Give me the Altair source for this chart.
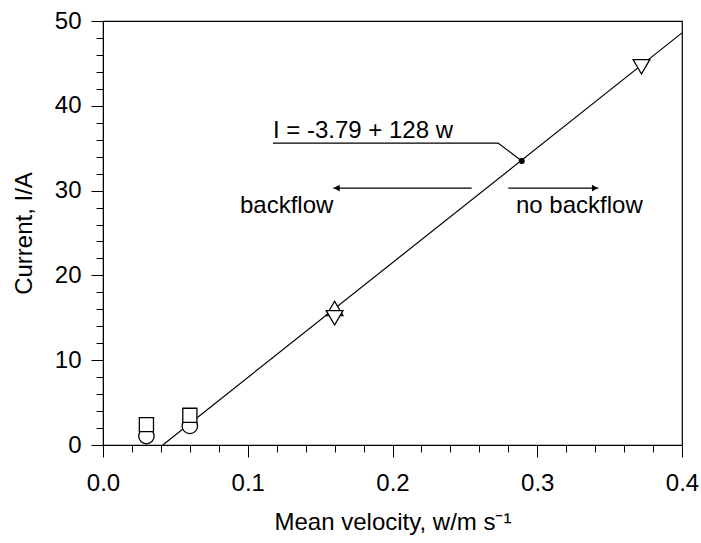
import altair as alt
import pandas as pd

# ---- data ----
circle_w = [0.03, 0.06]
circle_i = [1.05, 2.25]
square_w = [0.03, 0.06]
square_i = [2.4, 3.5]
tri_up_w = [0.16]
tri_up_i = [16.1]
tri_down_w = [0.16, 0.372]
tri_down_i = [15.0, 44.6]

fit_w = [0.0413, 0.4]
fit_i = [0.0, 48.6]

key_w = [0.2893]
key_i = [33.5]

leader_w = [0.1174, 0.2729, 0.2893]
leader_i = [35.6, 35.6, 33.5]

arrow_left_w = [0.2547, 0.1591]
arrow_right_w = [0.2800, 0.3422]
arrow_i = 30.3

labels_text = ["I = -3.79 + 128 w", "backflow", "no backflow"]
labels_w = [0.1174, 0.0946, 0.2853]
labels_i = [36.2, 27.4, 27.4]

x_ticks = [0.0, 0.02, 0.04, 0.06, 0.08, 0.1, 0.12, 0.14, 0.16, 0.18, 0.2,
           0.22, 0.24, 0.26, 0.28, 0.3, 0.32, 0.34, 0.36, 0.38, 0.4]
y_ticks = [0, 2, 4, 6, 8, 10, 12, 14, 16, 18, 20, 22, 24, 26, 28, 30,
           32, 34, 36, 38, 40, 42, 44, 46, 48, 50]

FONT = "Liberation Sans"
FS = 24
W, H = 579, 424

xs = alt.Scale(domain=[0, 0.4], nice=False, zero=False)
ys = alt.Scale(domain=[0, 50], nice=False, zero=False)

x_major = "abs(datum.value*10 - round(datum.value*10)) < 1e-6"
y_major = "datum.value % 10 === 0"

x_axis = alt.Axis(
    values=x_ticks, tickCount=100, grid=False, domainColor="black", tickColor="black",
    tickSize={"condition": {"test": x_major, "value": 12}, "value": 7},
    labelExpr="abs(datum.value*10 - round(datum.value*10)) < 1e-6 ? format(datum.value, '.1f') : ''",
    labelFont=FONT, labelFontSize=FS, labelColor="black", labelPadding=14,
    labelFlush=False, labelOverlap=False,
    title="Mean velocity, w/m s\u207b\u00b9", titleFont=FONT, titleFontSize=FS,
    titleFontWeight="normal", titleColor="black",
    titleX=W / 2, titleY=84, titleAnchor="middle", titleAlign="center", titleBaseline="alphabetic",
)
y_axis = alt.Axis(
    values=y_ticks, tickCount=100, grid=False, domainColor="black", tickColor="black",
    tickSize={"condition": {"test": y_major, "value": 12}, "value": 7},
    labelExpr="datum.value % 10 === 0 ? format(datum.value, 'd') : ''",
    labelFont=FONT, labelFontSize=FS, labelColor="black", labelPadding=10,
    labelFlush=False, labelOverlap=False,
    title="Current, I/A", titleFont=FONT, titleFontSize=FS,
    titleFontWeight="normal", titleColor="black",
    titleX=-72, titleY=H / 2, titleAngle=-90, titleAlign="center", titleBaseline="alphabetic",
)

X = alt.X("w:Q", scale=xs, axis=x_axis)
Y = alt.Y("i:Q", scale=ys, axis=y_axis)
Xn = alt.X("w:Q", scale=xs)
Yn = alt.Y("i:Q", scale=ys)

fit = alt.Chart(pd.DataFrame({"w": fit_w, "i": fit_i})).mark_line(
    color="black", strokeWidth=1.2).encode(x=X, y=Y)

leader = alt.Chart(pd.DataFrame({"w": leader_w, "i": leader_i, "o": [0, 1, 2]})).mark_line(
    color="black", strokeWidth=1.2).encode(x=Xn, y=Yn, order="o:O")

def pts(w, i, shape, size):
    return alt.Chart(pd.DataFrame({"w": w, "i": i})).mark_point(
        shape=shape, size=size, filled=True, fill="white", stroke="black",
        strokeWidth=1.3, opacity=1).encode(x=Xn, y=Yn)

circles = pts(circle_w, circle_i, "circle", 240)
squares = pts(square_w, square_i, "square", 200)
tri_up = pts(tri_up_w, tri_up_i, "triangle-up", 280)
tri_down = pts(tri_down_w, tri_down_i, "triangle-down", 280)

key = alt.Chart(pd.DataFrame({"w": key_w, "i": key_i})).mark_point(
    shape="circle", size=36, filled=True, color="black", opacity=1).encode(x=Xn, y=Yn)

arr_l = alt.Chart(pd.DataFrame({"w": arrow_left_w[:1], "w2": arrow_left_w[1:], "i": [arrow_i]})).mark_rule(
    color="black", strokeWidth=1.2).encode(x=Xn, x2="w2:Q", y=Yn)
arr_r = alt.Chart(pd.DataFrame({"w": arrow_right_w[:1], "w2": arrow_right_w[1:], "i": [arrow_i]})).mark_rule(
    color="black", strokeWidth=1.2).encode(x=Xn, x2="w2:Q", y=Yn)
head_l = alt.Chart(pd.DataFrame({"w": arrow_left_w[1:], "i": [arrow_i]})).mark_point(
    shape="triangle-left", size=45, filled=True, color="black", opacity=1, xOffset=3.5).encode(x=Xn, y=Yn)
head_r = alt.Chart(pd.DataFrame({"w": arrow_right_w[1:], "i": [arrow_i]})).mark_point(
    shape="triangle-right", size=45, filled=True, color="black", opacity=1, xOffset=-3.5).encode(x=Xn, y=Yn)

texts = alt.Chart(pd.DataFrame({"w": labels_w, "i": labels_i, "t": labels_text})).mark_text(
    align="left", baseline="alphabetic", font=FONT, fontSize=FS, color="black").encode(
    x=Xn, y=Yn, text="t:N")

chart = alt.layer(
    fit, leader, circles, squares, tri_up, tri_down, key, arr_l, arr_r, head_l, head_r, texts
).properties(
    width=W, height=H,
    autosize=alt.AutoSizeParams(type="none"),
    padding={"left": 103, "top": 21, "right": 19, "bottom": 98},
    background="white",
).configure_view(stroke="black", strokeWidth=1.2)

chart.save("out.html", embed_options={"renderer": "svg", "actions": False})
